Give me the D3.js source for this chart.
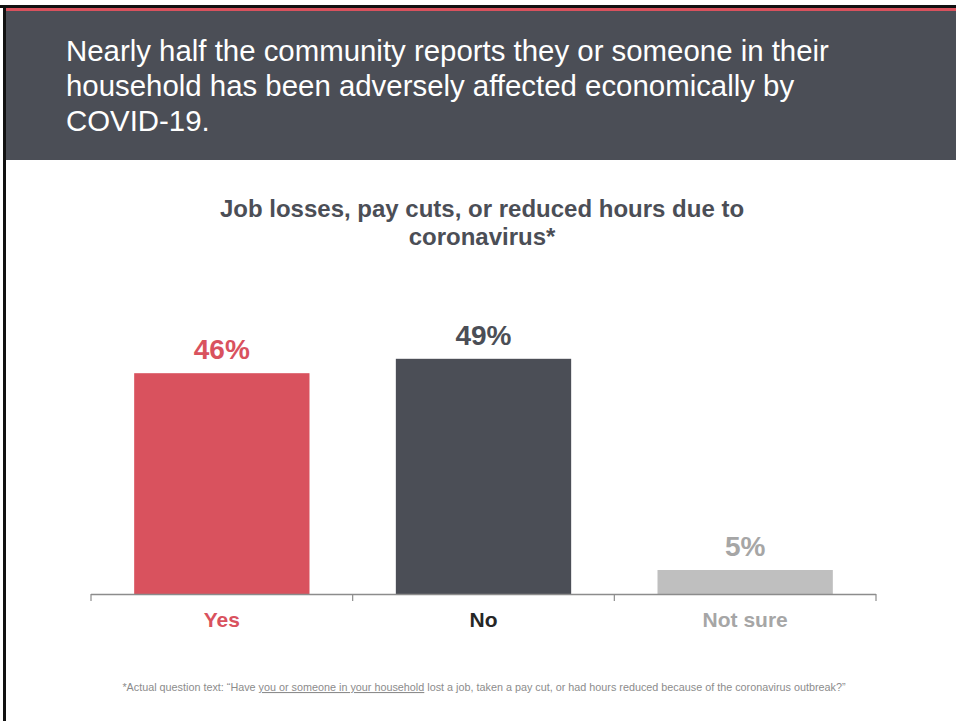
<!DOCTYPE html>
<html><head><meta charset="utf-8">
<script src="https://cdn.jsdelivr.net/npm/d3@7"></script>
<style>
html,body{margin:0;padding:0;background:#fff;}
svg{display:block;font-family:"Liberation Sans",Arial,sans-serif;}
</style></head>
<body>
<svg id="chart" width="956" height="721"></svg>
<script>
const categories = ["Yes", "No", "Not sure"];
const values = [46, 49, 5];
const valueLabels = ["46%", "49%", "5%"];
const barColors = ["#D9525E", "#4B4E56", "#BFBFBF"];
const labelColors = ["#D9525E", "#4B4E56", "#A6A6A6"];
const catColors = ["#D9525E", "#262626", "#A6A6A6"];
const headerLines = ["Nearly half the community reports they or someone in their", "household has been adversely affected economically by", "COVID-19."];
const titleLines = ["Job losses, pay cuts, or reduced hours due to", "coronavirus*"];

const svg = d3.select("#chart");
// frame
svg.append("rect").attr("x",0).attr("y",0).attr("width",956).attr("height",721).attr("fill","#fff");
svg.append("rect").attr("x",0).attr("y",5).attr("width",956).attr("height",3).attr("fill","#111");
svg.append("rect").attr("x",3).attr("y",5).attr("width",3).attr("height",716).attr("fill","#111");
svg.append("rect").attr("x",6).attr("y",8).attr("width",950).attr("height",3).attr("fill","#D9525E");
svg.append("rect").attr("x",6).attr("y",11).attr("width",950).attr("height",149).attr("fill","#4B4E56");

const hb = [61, 96, 131];
svg.selectAll("text.hdr").data(headerLines).join("text").attr("class","hdr")
  .attr("x",66).attr("y",(d,i)=>hb[i]).attr("fill","#fff")
  .style("font-size","29.4px").text(d=>d);

const tb = [217, 245];
svg.selectAll("text.ttl").data(titleLines).join("text").attr("class","ttl")
  .attr("x",482).attr("y",(d,i)=>tb[i]).attr("text-anchor","middle")
  .attr("fill","#4B4E56").style("font-size","24px").style("font-weight","bold").text(d=>d);

const x = d3.scaleBand().domain(categories).range([91,876]).paddingInner(0.33).paddingOuter(0.165);
const y = d3.scaleLinear().domain([0,50]).range([594,354]);

svg.selectAll("rect.bar").data(values).join("rect").attr("class","bar")
  .attr("x",(d,i)=>x(categories[i])).attr("y",d=>y(d))
  .attr("width",x.bandwidth()).attr("height",d=>y(0)-y(d))
  .attr("fill",(d,i)=>barColors[i]);

svg.selectAll("text.val").data(values).join("text").attr("class","val")
  .attr("x",(d,i)=>x(categories[i])+x.bandwidth()/2).attr("y",d=>y(d)-14)
  .attr("text-anchor","middle").attr("fill",(d,i)=>labelColors[i])
  .style("font-size","28px").style("font-weight","bold").text((d,i)=>valueLabels[i]);

// axis line with ticks at band boundaries
const bounds = [91].concat(categories.map(c=>x(c)-x.step()*x.paddingOuter()+x.step()));
const axisG = svg.append("g");
axisG.append("line").attr("x1",91).attr("x2",876).attr("y1",594.5).attr("y2",594.5).attr("stroke","#8C8C8C").attr("stroke-width",1.5);
axisG.selectAll("line.tk").data(bounds).join("line").attr("class","tk")
  .attr("x1",d=>d).attr("x2",d=>d).attr("y1",594).attr("y2",601).attr("stroke","#8C8C8C").attr("stroke-width",1.2);

svg.selectAll("text.cat").data(categories).join("text").attr("class","cat")
  .attr("x",d=>x(d)+x.bandwidth()/2).attr("y",627).attr("text-anchor","middle")
  .attr("fill",(d,i)=>catColors[i]).style("font-size","21px").style("font-weight","bold").text(d=>d);

const fn = svg.append("text").attr("x",484).attr("y",691).attr("text-anchor","middle")
  .attr("fill","#8C8C8C").style("font-size","10.8px");
fn.append("tspan").text("*Actual question text: \u201cHave ");
fn.append("tspan").attr("text-decoration","underline").text("you or someone in your household");
fn.append("tspan").text(" lost a job, taken a pay cut, or had hours reduced because of the coronavirus outbreak?\u201d");
</script>
</body></html>
